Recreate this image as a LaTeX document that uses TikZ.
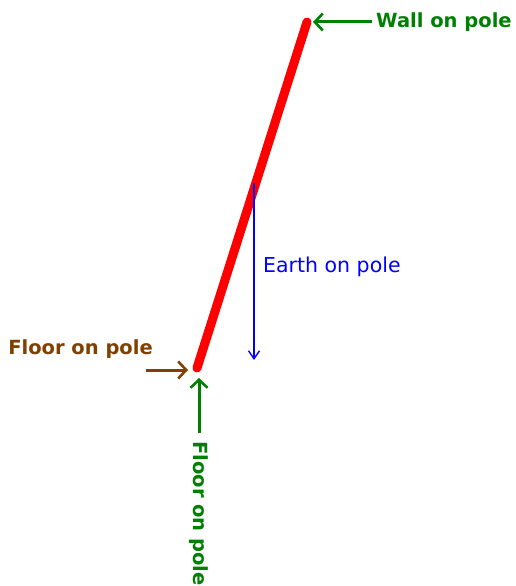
\documentclass[tikz,border=0pt]{standalone}
\usepackage{fontspec}
\setmainfont{DejaVu Sans}
\usepackage{xcolor}
\usepackage{tikz}
\usetikzlibrary{arrows.meta}
\definecolor{poleRed}{HTML}{FF0000}
\definecolor{wallGreen}{HTML}{008000}
\definecolor{floorBrown}{HTML}{804000}
\definecolor{earthBlue}{HTML}{0000FF}
\tikzset{
  polestyle/.style={draw=poleRed, line width=9pt, line cap=round},
  forcearrow/.style={-{Straight Barb[length=8pt,width=17pt,line width=2.6pt]}, line width=3pt, draw=#1},
  weightarrow/.style={-{Straight Barb[length=8pt,width=11pt]}, line width=1.4pt, draw=earthBlue},
  forcelabel/.style={font=\fontsize{19.5}{22}\selectfont\bfseries, text=#1, inner sep=0pt},
  weightlabel/.style={font=\fontsize{20.5}{24}\selectfont, text=earthBlue, inner sep=0pt},
}
\begin{document}
\begin{tikzpicture}[x=1pt,y=-1pt]
  \useasboundingbox (0,0) rectangle (516,586);

  % --- the pole ---
  \coordinate (top) at (307,22);
  \coordinate (foot) at (197,368);
  \draw[polestyle] (foot) -- (top);

  % --- wall ---
  \node[forcelabel=wallGreen, anchor=west] (wall) at (376,22) {Wall on pole};
  \draw[forcearrow=wallGreen] ([xshift=-4pt]wall.west) -- ([xshift=6pt]top);

  % --- earth ---
  \coordinate (cg) at (254,183);
  \coordinate (earthend) at (254,360);
  \draw[weightarrow] (cg) -- (earthend);
  \node[weightlabel, anchor=west] (earth) at (263,267) {Earth on pole};

  % --- floor, horizontal ---
  \node[forcelabel=floorBrown, anchor=east] (floorside) at (153,349) {Floor on pole};
  \coordinate (sidestart) at (146,370);
  \draw[forcearrow=floorBrown] (sidestart) -- ([xshift=-9pt]foot |- sidestart);

  % --- floor, vertical ---
  \node[forcelabel=wallGreen, rotate=-90, anchor=west] (floorup) at (199,441) {Floor on pole};
  \draw[forcearrow=wallGreen] ([yshift=8pt]floorup.west) -- ([yshift=-10pt]floorup.west |- foot);
\end{tikzpicture}
\end{document}
